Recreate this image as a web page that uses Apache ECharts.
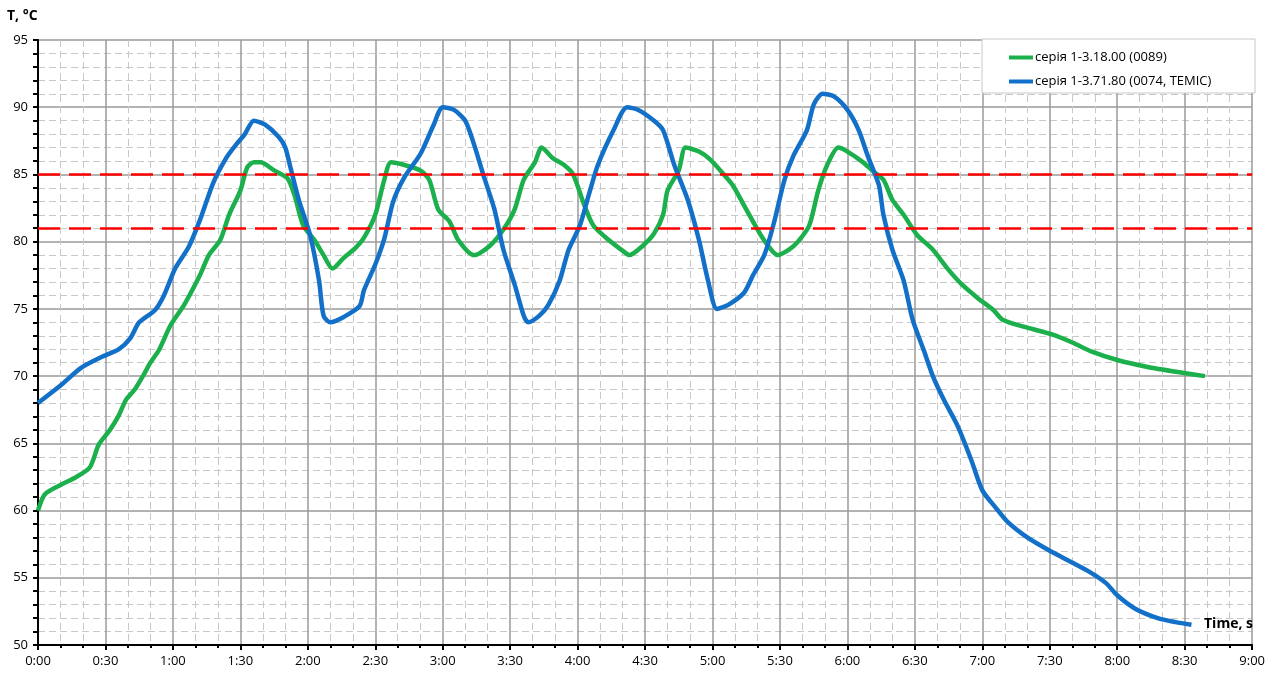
<!DOCTYPE html>
<html>
<head>
<meta charset="utf-8">
<script src="https://cdn.jsdelivr.net/npm/echarts@6/dist/echarts.min.js"></script>
<style>
  html, body { margin: 0; padding: 0; background: #fff; }
  #chart { width: 1268px; height: 674px; }
</style>
</head>
<body>
<div id="chart"></div>
<script>
// час, с / температура, °C
const greenName = 'серія 1-3.18.00 (0089)';
const blueName = 'серія 1-3.71.80 (0074, TEMIC)';

const greenT = [0, 3, 10, 16, 23, 27, 32, 36, 39, 43, 47, 50, 54, 59, 65, 72, 76, 81, 85, 90,
    93, 96, 99, 105, 111, 114, 118, 123, 127, 131, 136, 141, 145, 150, 154, 157, 163, 170, 174, 178,
    183, 187, 194, 201, 207, 212, 216, 221, 224, 229, 234, 238, 243, 247, 254, 261, 263, 269, 274, 278,
    280, 285, 288, 294, 299, 305, 309, 314, 318, 323, 329, 334, 338, 343, 347, 351, 356, 360, 367, 371,
    376, 380, 385, 391, 398, 405, 411, 418, 425, 429, 440, 451, 460, 469, 480, 493, 507, 519];
const greenV = [60, 61.2, 61.9, 62.4, 63.2, 64.9, 66, 67.1, 68.2, 69, 70.1, 71, 72, 73.8, 75.3, 77.5, 79, 80.1, 82, 83.8,
    85.5, 85.9, 85.9, 85.3, 84.7, 83.5, 81.2, 80.1, 79, 78, 78.8, 79.5, 80.3, 82, 84.6, 85.9, 85.7, 85.3, 84.6, 82.4,
    81.5, 80.1, 79, 79.7, 80.9, 82.4, 84.6, 85.9, 87, 86.2, 85.7, 85, 82.7, 81.2, 80.1, 79.2, 79, 79.7, 80.6, 82,
    83.8, 85.3, 87, 86.7, 86.1, 85, 84.2, 82.7, 81.5, 80.1, 79, 79.4, 80, 81.2, 83.8, 85.7, 87, 86.7, 85.9, 85.3,
    84.6, 83.1, 82, 80.5, 79.4, 77.9, 76.8, 75.8, 74.9, 74.2, 73.6, 73.1, 72.5, 71.8, 71.2, 70.7, 70.3, 70];

const blueT = [0, 10, 19, 28, 36, 41, 45, 52, 56, 61, 67, 72, 78, 84, 88, 92, 96, 101, 107, 110,
    112, 116, 121, 125, 127, 130, 136, 143, 145, 150, 154, 158, 163, 170, 176, 180, 185, 190, 194, 198,
    203, 207, 212, 216, 218, 223, 227, 232, 236, 241, 245, 249, 256, 262, 267, 274, 278, 283, 289, 294,
    298, 302, 307, 314, 318, 323, 327, 332, 336, 342, 345, 349, 354, 360, 365, 369, 374, 376, 380, 385,
    389, 394, 398, 403, 409, 415, 420, 426, 431, 440, 449, 458, 468, 475, 480, 488, 498, 506, 513];
const blueV = [68, 69.3, 70.6, 71.4, 72, 72.8, 74, 74.9, 76, 78, 79.6, 81.6, 84.4, 86.3, 87.2, 88, 89, 88.7, 87.8, 87,
    85.7, 83.1, 80.5, 77.1, 74.5, 74, 74.4, 75.2, 76.4, 78.3, 80.2, 83, 84.8, 86.5, 88.7, 90, 89.8, 89, 87.2, 85,
    82.4, 79.4, 76.8, 74.5, 74, 74.5, 75.3, 77.1, 79.4, 81.2, 83.5, 85.7, 88.3, 90, 89.8, 89, 88.3, 85.7, 83.1, 80.1,
    77.1, 75, 75.3, 76.2, 77.5, 79, 81.2, 84.6, 86.4, 88.3, 90.2, 91, 90.8, 89.8, 88.3, 86.4, 84.2, 82, 79.4, 77.1,
    74.2, 71.9, 70, 68.2, 66.3, 63.8, 61.5, 60.2, 59.2, 58, 57.1, 56.3, 55.4, 54.6, 53.7, 52.7, 52, 51.7, 51.5];

const limits = [85, 81];

const xMin = 0, xMax = 540, xStep = 30;
const yMin = 50, yMax = 95, yStep = 5;

const font = "'Open Sans', 'Noto Sans', sans-serif";

function pairs(t, v) { return t.map((x, i) => [x, v[i]]); }
function fmtTime(s) {
    const m = Math.floor(s / 60), sec = s % 60;
    return m + ':' + String(sec).padStart(2, '0');
}

const chart = echarts.init(document.getElementById('chart'), null, { renderer: 'canvas' });
chart.setOption({
    animation: false,
    backgroundColor: '#fff',
    grid: { left: 38, right: 13, top: 40, bottom: 29, containLabel: false },
    xAxis: {
        type: 'value', min: xMin, max: xMax, interval: xStep,
        axisLine: { onZero: false, lineStyle: { color: '#000', width: 2 } },
        axisTick: { show: true, length: 5, inside: false, lineStyle: { color: '#000', width: 2 } },
        minorTick: { show: true, splitNumber: 3, length: 3, lineStyle: { color: '#000', width: 2 } },
        axisLabel: { color: '#000', fontSize: 13, fontFamily: font, margin: 10, formatter: fmtTime },
        splitLine: { show: true, lineStyle: { color: '#9a9a9a', width: 1.5 } },
        minorSplitLine: { show: true, lineStyle: { color: '#c8c8c8', width: 1, type: [7, 4] } }
    },
    yAxis: {
        type: 'value', min: yMin, max: yMax, interval: yStep,
        axisLine: { show: true, lineStyle: { color: '#000', width: 2 } },
        axisTick: { show: true, length: 5, lineStyle: { color: '#000', width: 2 } },
        minorTick: { show: true, splitNumber: 5, length: 5, lineStyle: { color: '#000', width: 2 } },
        axisLabel: { color: '#000', fontSize: 13, fontFamily: font, margin: 10 },
        splitLine: { show: true, lineStyle: { color: '#9a9a9a', width: 1.5 } },
        minorSplitLine: { show: true, lineStyle: { color: '#c8c8c8', width: 1, type: [7, 4] } }
    },
    legend: {
        orient: 'vertical', left: 1004, top: 46, itemGap: 11,
        itemWidth: 24, itemHeight: 4, icon: 'rect',
        textStyle: { color: '#000', fontSize: 13, fontFamily: font, padding: [0, 0, 0, -3] },
        data: [greenName, blueName], z: 20
    },
    graphic: [
        { type: 'rect', z: 10, shape: { x: 982, y: 39, width: 273, height: 54 },
          style: { fill: '#fff', stroke: '#c8c8c8', lineWidth: 1 } },
        { type: 'text', left: 7, top: 9, style: { text: 'T, °C', fill: '#000',
          font: "bold 14px 'Open Sans', sans-serif" } },
        { type: 'text', left: 1204, top: 617, z: 20, style: { text: 'Time, s', fill: '#000',
          font: "bold 14px 'Open Sans', sans-serif" } }
    ],
    series: [
        {
            name: greenName, type: 'line', data: pairs(greenT, greenV),
            smooth: 0.25, showSymbol: false, symbol: 'none',
            lineStyle: { color: '#1bb04c', width: 4.5 }, itemStyle: { color: '#1bb04c' }, z: 3
        },
        {
            name: blueName, type: 'line', data: pairs(blueT, blueV),
            smooth: 0.25, showSymbol: false, symbol: 'none',
            lineStyle: { color: '#1270c8', width: 4.5 }, itemStyle: { color: '#1270c8' }, z: 4,
            markLine: {
                silent: true, symbol: 'none', z: 5,
                label: { show: false },
                lineStyle: { color: '#ff0000', width: 2.5, type: [22, 9] },
                data: limits.map(v => ({ yAxis: v }))
            }
        }
    ]
});
</script>
</body>
</html>
